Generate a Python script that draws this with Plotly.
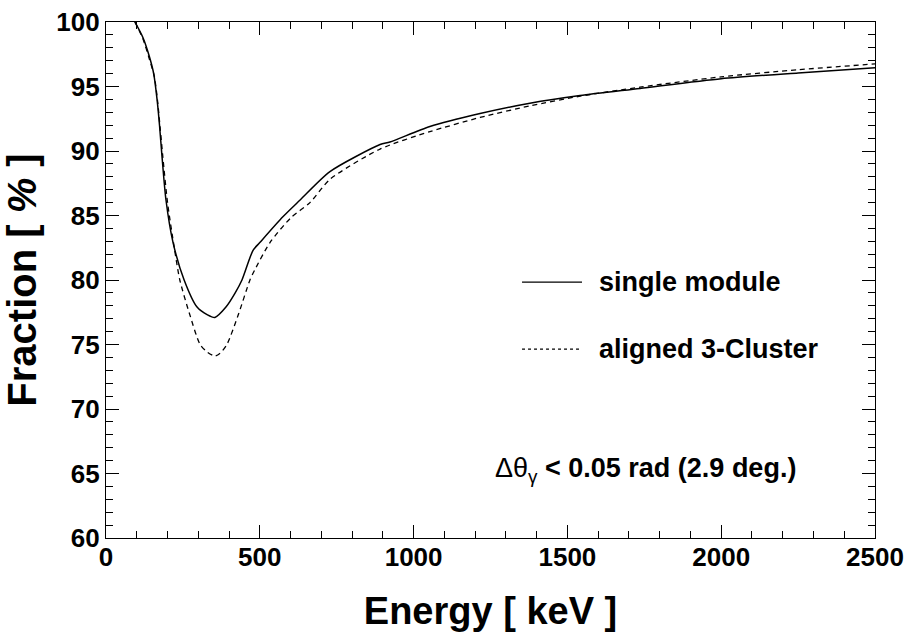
import plotly.graph_objects as go

# Energy [keV] and fraction [%]
e_single = [94, 120, 140, 155, 166, 174, 182, 195, 218, 254, 296, 330, 354, 390, 420, 442, 478, 500,
            575, 631, 728, 891, 923, 1053, 1216, 1378, 1541, 1736, 2000, 2250, 2500]
f_single = [100, 98.8, 97.4, 96.0, 94.0, 92.0, 89.6, 86.2, 82.9, 80, 77.9, 77.3, 77.1, 77.9, 79, 80, 82.3, 82.9,
            84.9, 86.2, 88.4, 90.5, 90.7, 91.9, 92.9, 93.7, 94.3, 94.85, 95.6, 96.05, 96.45]

e_cluster = [94, 120, 140, 157, 168, 176, 185, 200, 222, 240, 270, 306, 330, 354, 370, 393, 430, 468, 484,
             533, 600, 663, 728, 891, 1053, 1216, 1378, 1541, 1736, 2000, 2250, 2500]
f_cluster = [100, 98.7, 97.2, 95.8, 93.8, 91.8, 89.5, 86, 82.5, 80, 77.5, 75, 74.4, 74.1, 74.3, 75, 77.3, 80, 80.8,
             82.9, 84.8, 86, 87.8, 90.15, 91.5, 92.6, 93.5, 94.25, 94.95, 95.75, 96.3, 96.75]

x_ticks = [0, 500, 1000, 1500, 2000, 2500]
y_ticks = [60, 65, 70, 75, 80, 85, 90, 95, 100]

legend_labels = ["single module", "aligned 3-Cluster"]
note_text = "Δθ<sub>γ</sub><b> &lt; 0.05 rad (2.9 deg.)</b>"

FONT = "Liberation Sans, Arial, Helvetica, sans-serif"

fig = go.Figure()
fig.add_trace(go.Scatter(x=e_single, y=f_single, mode="lines", line=dict(color="black", width=1.5),
                         line_shape="spline", line_smoothing=0.7, name=legend_labels[0], showlegend=False))
fig.add_trace(go.Scatter(x=e_cluster, y=f_cluster, mode="lines",
                         line=dict(color="black", width=1.3, dash="5px,4px"),
                         line_shape="spline", line_smoothing=0.7, name=legend_labels[1], showlegend=False))

axis_common = dict(showgrid=False, zeroline=False, showline=True, linecolor="black", linewidth=1.3,
                   ticks="inside", ticklen=13, tickwidth=1.3, tickcolor="black", mirror="allticks",
                   automargin=False,
                   tickfont=dict(family=FONT, size=26, color="black", weight="bold"))

fig.update_xaxes(range=[0, 2500], tickvals=x_ticks, ticktext=[str(v) for v in x_ticks],
                 ticklabelstandoff=-4,
                 minor=dict(dtick=100, ticks="inside", ticklen=7, tickwidth=1.3, tickcolor="black"),
                 title=dict(text="Energy [ keV ]", font=dict(family=FONT, size=38, color="black", weight="bold"),
                            standoff=26),
                 **axis_common)
fig.update_yaxes(range=[60, 100], tickvals=y_ticks, ticktext=[str(v) for v in y_ticks],
                 minor=dict(dtick=1, ticks="inside", ticklen=7, tickwidth=1.3, tickcolor="black"),
                 title=dict(text="Fraction [ <i>%</i> ]", font=dict(family=FONT, size=40, color="black", weight="bold"),
                            standoff=10),
                 **axis_common)

# legend drawn ROOT-style
fig.add_shape(type="line", xref="paper", yref="paper", x0=0.541, x1=0.619, y0=0.496, y1=0.496,
              line=dict(color="black", width=1.3))
fig.add_shape(type="line", xref="paper", yref="paper", x0=0.541, x1=0.619, y0=0.366, y1=0.366,
              line=dict(color="black", width=1.1, dash="3px,3px"))
for lbl, yy in zip(legend_labels, [0.496, 0.366]):
    fig.add_annotation(text=lbl, xref="paper", yref="paper", x=0.638, y=yy, xanchor="left",
                       yanchor="middle", showarrow=False,
                       font=dict(family=FONT, size=27, color="black", weight="bold"))

fig.add_annotation(text=note_text, xref="paper", yref="paper", x=(493 - 106) / 769, y=(538 - 470) / 516,
                   xanchor="left", yanchor="middle", showarrow=False,
                   font=dict(family=FONT, size=27, color="black"))

fig.update_layout(width=908, height=639, margin=dict(l=106, r=33, t=22, b=101),
                  plot_bgcolor="white", paper_bgcolor="white", showlegend=False)

fig.write_html("out.html")
